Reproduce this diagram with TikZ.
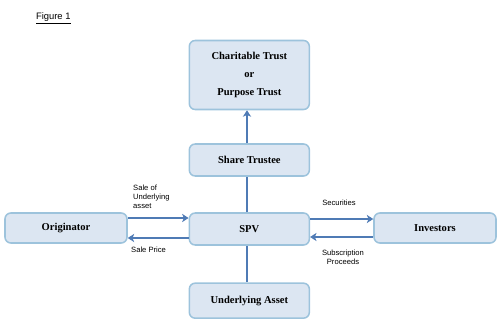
\documentclass[tikz,border=0pt]{standalone}
\usepackage{fontspec}
\setmainfont{Liberation Serif}
\setsansfont{Liberation Sans}
\usepackage{tikz}
\usetikzlibrary{
    positioning,
    arrows.meta
}
\definecolor{boxfill}{HTML}{DCE6F2}
\definecolor{boxline}{HTML}{9DC3DC}
\definecolor{flow}{HTML}{4F7BB5}
\tikzset{
    >=Stealth,
    party/.style={
        draw=boxline,
        fill=boxfill,
        line width=1.3pt,
        rounded corners=5pt,
        minimum width=3.6cm,
        minimum height=0.96cm,
        align=center,
        font=\fontsize{9}{15}\selectfont\bfseries
    },
    flowline/.style={
        draw=flow,
        line width=1.9pt
    },
    flowlabel/.style={
        font=\sffamily\fontsize{6.5}{7.8}\selectfont,
        inner sep=0pt
    }
}

\begin{document}
\begin{tikzpicture}[
    auto,
    >={Stealth[length=5.5pt,width=7pt,inset=1.5pt]}
]

    \useasboundingbox (0,0) rectangle (15,-9.81);

    % Titulo
    \node[font=\sffamily\fontsize{8}{9}\selectfont, anchor=west] (fig) at (0.96,-0.55) {\underline{Figure 1}};

    % Cajas
    \node[party, minimum height=2.07cm] (trust) at (7.48,-2.25)  {Charitable Trust\\or\\Purpose Trust};
    \node[party]                        (share) at (7.48,-4.8)   {Share Trustee};
    \node[party]                        (spv)   at (7.48,-6.87)  {SPV};
    \node[party, minimum width=3.66cm, minimum height=0.9cm]
                                        (orig)  at (1.98,-6.84)  {Originator};
    \node[party, minimum width=3.66cm, minimum height=0.9cm]
                                        (inv)   at (13.05,-6.84) {Investors};
    \node[party, minimum height=1.05cm] (asset) at (7.48,-9.02)  {Underlying Asset};

    % Flujos
    \draw[flowline, ->] ([xshift=-0.07cm]share.north) -- ([xshift=-0.07cm]trust.south);
    \draw[flowline]     ([xshift=-0.07cm]spv.north)   -- ([xshift=-0.07cm]share.south);
    \draw[flowline]     ([xshift=-0.07cm]spv.south)   -- ([xshift=-0.07cm]asset.north);

    \draw[flowline, ->] ([yshift=0.3cm]orig.east)   -- ([yshift=0.3cm]orig.east -| spv.west);
    \draw[flowline, ->] ([yshift=-0.27cm]spv.west)  -- ([yshift=-0.27cm]spv.west -| orig.east);
    \draw[flowline, ->] ([yshift=0.3cm]spv.east)    -- ([yshift=0.3cm]spv.east -| inv.west);
    \draw[flowline, ->] ([yshift=-0.27cm]inv.west)  -- ([yshift=-0.27cm]inv.west -| spv.east);

    % Etiquetas
    \node[flowlabel, anchor=south west, align=left] (sale)  at (3.99,-6.27)  {Sale of\\Underlying\\asset};
    \node[flowlabel, anchor=west]                   (price) at (3.93,-7.5)  {Sale Price};
    \node[flowlabel]                                (sec)   at (10.17,-6.09) {Securities};
    \node[flowlabel, align=center]                  (subs)  at (10.29,-7.71) {Subscription\\Proceeds};

\end{tikzpicture}
\end{document}
